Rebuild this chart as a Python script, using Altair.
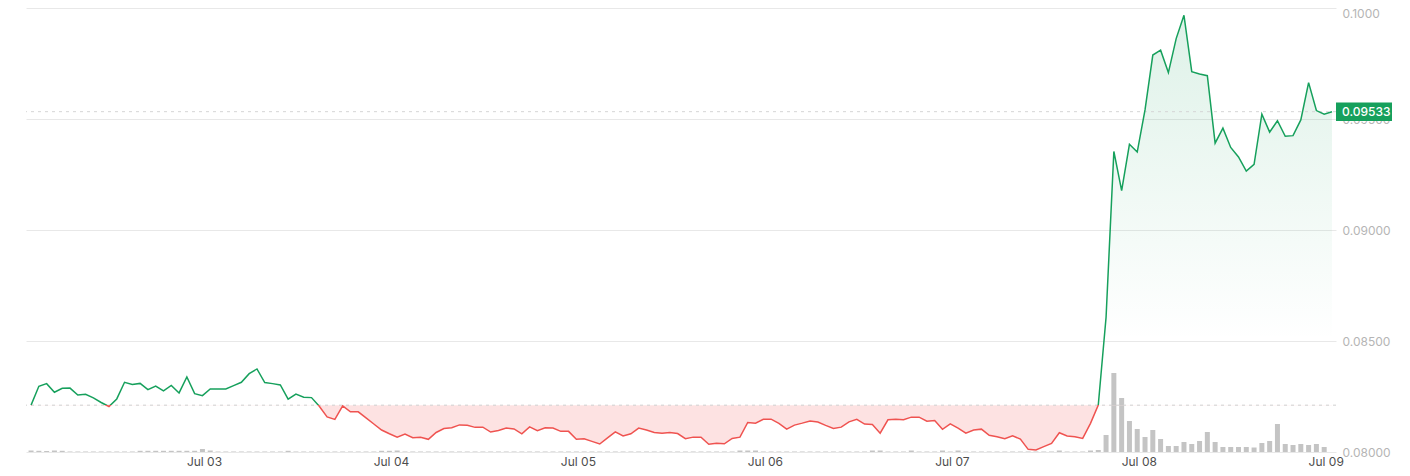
import altair as alt
import pandas as pd

# ---------------- data ----------------
start_time = "2024-07-02 01:48"          # first hourly sample (UTC)
tick_days = [3, 4, 5, 6, 7, 8, 9]       # July day ticks on the x axis
price_ticks = [0.08, 0.085, 0.09, 0.095, 0.10]

price = [
    0.08211, 0.08296, 0.08308, 0.08269, 0.08287, 0.08288, 0.08257, 0.08260, 0.08244, 0.08223,
    0.08205, 0.08239, 0.08314, 0.08304, 0.08309, 0.08281, 0.08297, 0.08275, 0.08300, 0.08266,
    0.08338, 0.08263, 0.08254, 0.08284, 0.08284, 0.08284, 0.08299, 0.08314, 0.08353, 0.08374,
    0.08313, 0.08308, 0.08302, 0.08238, 0.08261, 0.08247, 0.08245, 0.08206, 0.08158, 0.08147,
    0.08208, 0.08181, 0.08181, 0.08154, 0.08126, 0.08099, 0.08082, 0.08067, 0.08081, 0.08064,
    0.08066, 0.08057, 0.08088, 0.08106, 0.08109, 0.08122, 0.08120, 0.08111, 0.08112, 0.08090,
    0.08097, 0.08108, 0.08104, 0.08082, 0.08113, 0.08096, 0.08109, 0.08108, 0.08093, 0.08093,
    0.08057, 0.08060, 0.08048, 0.08036, 0.08064, 0.08091, 0.08072, 0.08082, 0.08108, 0.08099,
    0.08088, 0.08084, 0.08088, 0.08083, 0.08060, 0.08067, 0.08067, 0.08035, 0.08039, 0.08037,
    0.08061, 0.08067, 0.08133, 0.08130, 0.08147, 0.08148, 0.08129, 0.08103, 0.08121, 0.08130,
    0.08140, 0.08135, 0.08120, 0.08106, 0.08112, 0.08136, 0.08147, 0.08126, 0.08124, 0.08085,
    0.08145, 0.08147, 0.08145, 0.08157, 0.08157, 0.08139, 0.08142, 0.08102, 0.08127, 0.08108,
    0.08085, 0.08099, 0.08103, 0.08075, 0.08069, 0.08060, 0.08073, 0.08058, 0.08012, 0.08009,
    0.08024, 0.08039, 0.08087, 0.08072, 0.08069, 0.08061, 0.08129, 0.08211, 0.08607, 0.09354,
    0.09177, 0.09386, 0.09351, 0.09541, 0.09788, 0.09810, 0.09709, 0.09862, 0.09967, 0.09713,
    0.09703, 0.09695, 0.09391, 0.09459, 0.09372, 0.09329, 0.09265, 0.09296, 0.09522, 0.09441,
    0.09492, 0.09422, 0.09425, 0.09496, 0.09664, 0.09538, 0.09522, 0.09533,
]

volume = [
    1.5, 1.2, 1.0, 1.5, 1.2, 0.5, 0.5, 0.5, 0.5, 0.5,
    0.5, 0.5, 0.5, 0.5, 1.2, 1.2, 1.2, 1.2, 1.2, 1.2,
    1.2, 1.2, 3.0, 1.5, 0.5, 0.5, 0.5, 0.5, 0.5, 0.5,
    0.5, 0.5, 0.5, 1.2, 0.5, 0.5, 0.5, 0.5, 0.5, 0.5,
    0.5, 0.5, 0.5, 0.5, 0.5, 1.2, 1.2, 1.5, 0.5, 0.5,
    0.5, 0.5, 0.5, 0.5, 0.5, 0.5, 0.5, 0.5, 0.5, 0.5,
    0.5, 0.5, 0.5, 0.5, 0.5, 0.5, 0.5, 0.5, 0.5, 0.5,
    0.5, 0.5, 0.5, 0.5, 0.5, 0.5, 0.5, 0.5, 0.5, 0.5,
    0.5, 0.5, 0.5, 0.5, 0.5, 0.5, 0.5, 0.5, 0.5, 0.5,
    0.5, 1.5, 1.5, 1.5, 0.5, 0.5, 0.5, 0.5, 0.5, 0.5,
    0.5, 0.5, 0.5, 0.5, 0.5, 0.5, 0.5, 0.5, 1.5, 1.5,
    0.5, 0.5, 0.5, 1.5, 0.5, 0.5, 0.5, 1.5, 0.5, 1.5,
    0.5, 0.5, 0.5, 0.5, 0.5, 0.5, 0.5, 0.5, 0.5, 0.5,
    0.5, 0.5, 1.5, 0.5, 0.5, 0.5, 1.5, 2, 17, 79,
    54, 31, 23, 15, 22, 13, 6, 6, 10, 8,
    11, 20, 10, 5, 5, 5, 5, 4.5, 9, 11,
    28, 8, 7, 8, 7, 8, 5, 0,
]

# ---------------- derived table ----------------
times = pd.date_range(pd.Timestamp(start_time, tz="UTC"), periods=len(price), freq="h")
t_ms = [int(t.timestamp() * 1000) for t in times]
base = price[0]
last = price[-1]
df = pd.DataFrame({"t": t_ms, "price": price, "volume": volume, "base": base})


def ms(day, h=0, m=0):
    return int(pd.Timestamp(2024, 7, day, h, m, tz="UTC").timestamp() * 1000)


GREEN = "#16a05c"
RED = "#ef5350"
FONT = "Inter"

pmax, pmin = max(price), min(price)
split = (pmax - base) / (pmax - pmin)
fade = (pmax - 0.0850) / (pmax - pmin)

xscale = alt.Scale(type="utc", domain=[ms(2, 1, 9), ms(9, 1, 19)], nice=False, padding=0)
xaxis = alt.Axis(
    values=[ms(d) for d in tick_days],
    labelExpr="utcFormat(datum.value, '%b %d')",
    grid=False, ticks=False, domain=False, title=None,
    labelColor="#4d4d4d", labelFontSize=12, labelFont=FONT,
    labelPadding=4, labelFlush=False, labelOverlap=False,
)
yscale = alt.Scale(domain=[0.08, 0.10], nice=False, zero=False)
yaxis = alt.Axis(
    orient="right", values=price_ticks,
    labelExpr="datum.value >= 0.1 ? '0.1000' : format(datum.value, '.5f')",
    grid=True, gridColor="#e8e8e8", gridWidth=1,
    ticks=False, domain=False, title=None,
    labelColor="#b5b5b5", labelFontSize=12, labelFont=FONT,
    labelPadding=6, labelFlush=False,
    labelBaseline={"condition": {"test": "datum.value >= 0.1", "value": "top"}, "value": "middle"},
)

X = alt.X("t:T", scale=xscale, axis=xaxis)

area = alt.Chart(df).mark_area(
    fill=alt.LinearGradient(
        gradient="linear", x1=0, x2=0, y1=0, y2=1,
        stops=[
            alt.GradientStop(offset=0, color="rgba(22,160,92,0.14)"),
            alt.GradientStop(offset=fade, color="rgba(22,160,92,0.0)"),
            alt.GradientStop(offset=split, color="rgba(22,160,92,0.0)"),
            alt.GradientStop(offset=split, color="#fde2e2"),
            alt.GradientStop(offset=1, color="#fde2e2"),
        ],
    ),
).encode(x=X, y=alt.Y("price:Q", scale=yscale, axis=yaxis), y2="base:Q")

base_rule = alt.Chart(pd.DataFrame({"price": [base]})).mark_rule(
    color="#cfcfcf", strokeDash=[3, 4], strokeWidth=1
).encode(y=alt.Y("price:Q", scale=yscale, axis=yaxis))

last_rule = alt.Chart(pd.DataFrame({"price": [last]})).mark_rule(
    color="#d5d5d5", strokeDash=[3, 4], strokeWidth=1
).encode(y=alt.Y("price:Q", scale=yscale, axis=yaxis))

line = alt.Chart(df).mark_line(
    strokeWidth=1.5,
    stroke=alt.LinearGradient(
        gradient="linear", x1=0, x2=0, y1=0, y2=1,
        stops=[
            alt.GradientStop(offset=0, color=GREEN),
            alt.GradientStop(offset=split, color=GREEN),
            alt.GradientStop(offset=split, color=RED),
            alt.GradientStop(offset=1, color=RED),
        ],
    ),
).encode(x=X, y=alt.Y("price:Q", scale=yscale, axis=yaxis))

tag_df = pd.DataFrame({"price": [last]})
tag_box = alt.Chart(tag_df).mark_point(
    shape="M-1,-0.33L1,-0.33L1,0.33L-1,0.33Z",
    size=56 * 56, filled=True, color=GREEN, opacity=1, strokeWidth=0,
).encode(x=alt.value(1338), y=alt.Y("price:Q", scale=yscale, axis=yaxis))

tag_text = alt.Chart(tag_df).mark_text(
    align="left", baseline="middle", color="white", fontSize=12, font=FONT, fontWeight=500,
).encode(
    x=alt.value(1316),
    y=alt.Y("price:Q", scale=yscale, axis=yaxis),
    text=alt.Text("price:Q", format=".5f"),
)

vol = alt.Chart(df).mark_bar(size=5, color="#c4c4c4").encode(
    x=X, y=alt.Y("volume:Q", scale=alt.Scale(domain=[0, 444]), axis=None)
)

price_group = alt.layer(area, base_rule, last_rule, line, tag_box, tag_text)

chart = (
    alt.layer(vol, price_group)
    .resolve_scale(y="independent")
    .properties(
        width=1310, height=444,
        autosize=alt.AutoSizeParams(type="none"),
        padding={"left": 18, "top": 0, "right": 66, "bottom": 20},
        background="white",
    )
    .configure_view(stroke=None)
)

chart.save("out.html", embed_options={"renderer": "svg", "actions": False})
